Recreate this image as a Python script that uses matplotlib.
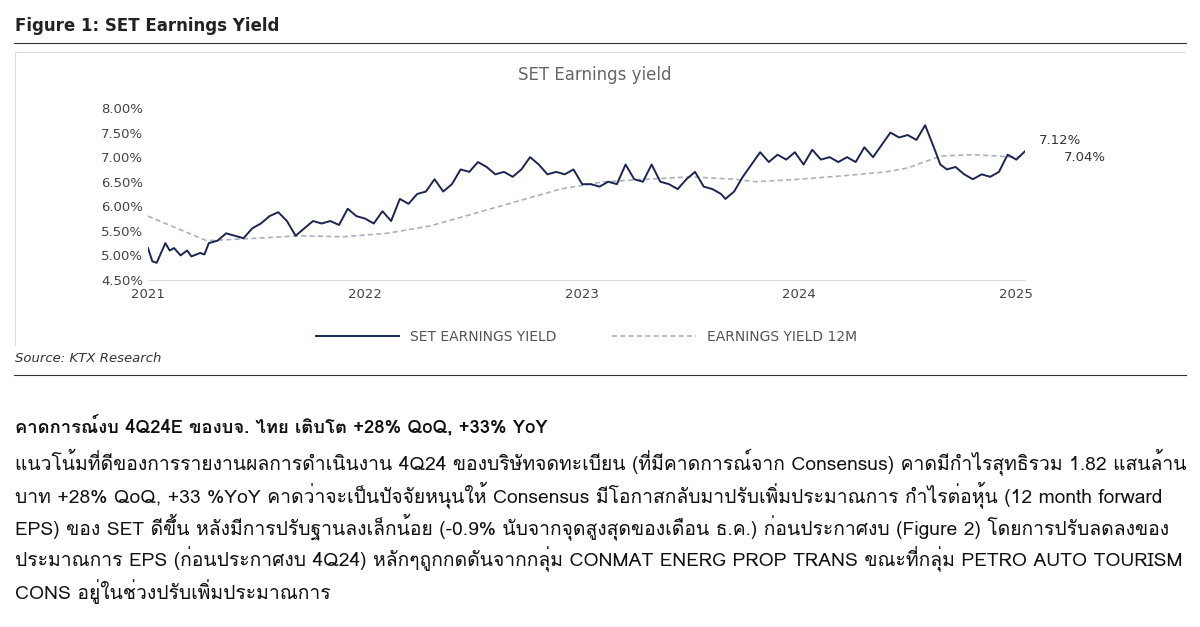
import matplotlib
matplotlib.use("Agg")
import matplotlib.pyplot as plt
from matplotlib import font_manager
from matplotlib.ft2font import FT2Font
from matplotlib.lines import Line2D

# look for any installed family that carries Thai glyphs
thai_family = None
for f in font_manager.fontManager.ttflist:
    try:
        if 0x0E01 in FT2Font(f.fname).get_charmap():
            thai_family = f.name
            break
    except Exception:
        continue

families = ["DejaVu Sans"] + ([thai_family] if thai_family else [])
plt.rcParams["font.family"] = families
body_families = ([thai_family] if thai_family else []) + ["DejaVu Sans"]

# SET earnings yield (%)
ey_dates = [2021.00, 2021.02, 2021.04, 2021.06, 2021.08, 2021.10, 2021.12, 2021.15, 2021.18, 2021.20,
            2021.24, 2021.26, 2021.28, 2021.32, 2021.36, 2021.40, 2021.44, 2021.48, 2021.52, 2021.56,
            2021.60, 2021.64, 2021.68, 2021.72, 2021.76, 2021.80, 2021.84, 2021.88, 2021.92, 2021.96,
            2022.00, 2022.04, 2022.08, 2022.12, 2022.16, 2022.20, 2022.24, 2022.28, 2022.32, 2022.36,
            2022.40, 2022.44, 2022.48, 2022.52, 2022.56, 2022.60, 2022.64, 2022.68, 2022.72, 2022.76,
            2022.80, 2022.84, 2022.88, 2022.92, 2022.96, 2023.00, 2023.04, 2023.08, 2023.12, 2023.16,
            2023.20, 2023.24, 2023.28, 2023.32, 2023.36, 2023.40, 2023.44, 2023.48, 2023.52, 2023.56,
            2023.60, 2023.64, 2023.66, 2023.70, 2023.74, 2023.78, 2023.82, 2023.86, 2023.90, 2023.94,
            2023.98, 2024.02, 2024.06, 2024.10, 2024.14, 2024.18, 2024.22, 2024.26, 2024.30, 2024.34,
            2024.38, 2024.42, 2024.46, 2024.50, 2024.54, 2024.58, 2024.62, 2024.65, 2024.68, 2024.72,
            2024.76, 2024.80, 2024.84, 2024.88, 2024.92, 2024.96, 2025.00, 2025.04]
ey_values = [5.15, 4.88, 4.85, 5.05, 5.25, 5.10, 5.15, 5.00, 5.10, 4.98,
             5.05, 5.02, 5.25, 5.30, 5.45, 5.40, 5.35, 5.55, 5.65, 5.80,
             5.88, 5.70, 5.40, 5.55, 5.70, 5.65, 5.70, 5.62, 5.95, 5.80,
             5.75, 5.65, 5.90, 5.70, 6.15, 6.05, 6.25, 6.30, 6.55, 6.30,
             6.45, 6.75, 6.70, 6.90, 6.80, 6.65, 6.70, 6.60, 6.75, 7.00,
             6.85, 6.65, 6.70, 6.65, 6.75, 6.45, 6.45, 6.40, 6.50, 6.45,
             6.85, 6.55, 6.50, 6.85, 6.50, 6.45, 6.35, 6.55, 6.70, 6.40,
             6.35, 6.25, 6.15, 6.30, 6.60, 6.85, 7.10, 6.90, 7.05, 6.95,
             7.10, 6.85, 7.15, 6.95, 7.00, 6.90, 7.00, 6.90, 7.20, 7.00,
             7.25, 7.50, 7.40, 7.45, 7.35, 7.65, 7.20, 6.85, 6.75, 6.80,
             6.65, 6.55, 6.65, 6.60, 6.70, 7.05, 6.95, 7.12]

# Earnings yield 12M (%)
ey12_dates = [2021.00, 2021.27, 2021.50, 2021.70, 2021.90, 2022.10, 2022.30, 2022.50, 2022.70, 2022.90,
              2023.10, 2023.30, 2023.50, 2023.70, 2023.80, 2024.00, 2024.20, 2024.40, 2024.50, 2024.65,
              2024.80, 2025.00, 2025.04]
ey12_values = [5.80, 5.30, 5.35, 5.40, 5.38, 5.45, 5.60, 5.85, 6.10, 6.35,
               6.50, 6.55, 6.60, 6.55, 6.50, 6.55, 6.62, 6.70, 6.78, 7.02,
               7.05, 7.00, 7.04]

year_ticks = [2021, 2022, 2023, 2024, 2025]
y_ticks = [4.5, 5.0, 5.5, 6.0, 6.5, 7.0, 7.5, 8.0]

body_lines = [
    "แนวโน้มที่ดีของการรายงานผลการดำเนินงาน 4Q24 ของบริษัทจดทะเบียน (ที่มีคาดการณ์จาก Consensus) คาดมีกำไรสุทธิรวม 1.82 แสนล้าน",
    "บาท +28% QoQ, +33 %YoY คาดว่าจะเป็นปัจจัยหนุนให้ Consensus มีโอกาสกลับมาปรับเพิ่มประมาณการ กำไรต่อหุ้น (12 month forward",
    "EPS) ของ SET ดีขึ้น หลังมีการปรับฐานลงเล็กน้อย (-0.9% นับจากจุดสูงสุดของเดือน ธ.ค.) ก่อนประกาศงบ (Figure 2) โดยการปรับลดลงของ",
    "ประมาณการ EPS (ก่อนประกาศงบ 4Q24) หลักๆถูกกดดันจากกลุ่ม CONMAT ENERG PROP TRANS ขณะที่กลุ่ม PETRO AUTO TOURISM",
    "CONS อยู่ในช่วงปรับเพิ่มประมาณการ",
]

W, H = 1200, 627
fig = plt.figure(figsize=(W / 100, H / 100), dpi=100)
navy = "#1b2550"

fig.text(15 / W, 1 - 26 / H, "Figure 1: SET Earnings Yield", fontsize=12, weight="bold", color="#222222", va="center")
fig.add_artist(Line2D([0.012, 0.988], [1 - 43 / H] * 2, color="#333333", lw=0.8))
fig.add_artist(Line2D([15 / W, 1185 / W], [1 - 52 / H] * 2, color="#dddddd", lw=0.8))
fig.add_artist(Line2D([15 / W, 15 / W], [1 - 52 / H, 1 - 345 / H], color="#dddddd", lw=0.8))
fig.text(595 / W, 1 - 75 / H, "SET Earnings yield", fontsize=12, color="#666666", ha="center", va="center")

ax = fig.add_axes([148 / W, 1 - 280 / H, (1025 - 148) / W, (280 - 108) / H])
ax.plot(ey12_dates, ey12_values, color="#aab0c0", lw=1.2, ls=(0, (3, 2)), label="EARNINGS YIELD 12M")
ax.plot(ey_dates, ey_values, color=navy, lw=1.4, label="SET EARNINGS YIELD")
ax.set_xticks(year_ticks)
ax.set_xticklabels([str(y) for y in year_ticks])
ax.set_yticks(y_ticks)
ax.set_yticklabels([f"{v:.2f}%" for v in y_ticks])
ax.set_xlim(2021, 2025.04)
ax.set_ylim(4.5, 8.0)
for s in ["top", "right", "left"]:
    ax.spines[s].set_visible(False)
ax.spines["bottom"].set_color("#dddddd")
ax.tick_params(axis="both", length=0, labelsize=9.5, colors="#444444")
ax.tick_params(axis="x", pad=6)
ax.annotate(f"{ey_values[-1]:.2f}%", (ey_dates[-1], ey_values[-1]), xytext=(10, 8), textcoords="offset points",
            fontsize=9.5, color="#333333", va="center")
ax.annotate(f"{ey12_values[-1]:.2f}%", (ey12_dates[-1], ey12_values[-1]), xytext=(28, -2), textcoords="offset points",
            fontsize=9.5, color="#333333", va="center")
handles, labels = ax.get_legend_handles_labels()
ax.legend(handles[::-1], labels[::-1], loc="upper center", bbox_to_anchor=(0.5, -0.22), ncol=2, frameon=False,
          fontsize=10, handlelength=6, columnspacing=4, labelcolor="#555555")

fig.text(15 / W, 1 - 358 / H, "Source: KTX Research", fontsize=9.5, style="italic", color="#333333", va="center")
fig.add_artist(Line2D([0.012, 0.988], [1 - 375 / H] * 2, color="#333333", lw=0.8))

fig.text(15 / W, 1 - 426 / H, "คาดการณ์งบ 4Q24E ของบจ. ไทย เติบโต +28% QoQ, +33% YoY", fontsize=13.3, weight="bold",
         color="#111111", va="center", family=body_families)
for i, line in enumerate(body_lines):
    fig.text(15 / W, 1 - (462 + i * 32.5) / H, line, fontsize=13.9, color="#111111", va="center",
             family=body_families)

fig.savefig("out.png", dpi=100, facecolor="white")
